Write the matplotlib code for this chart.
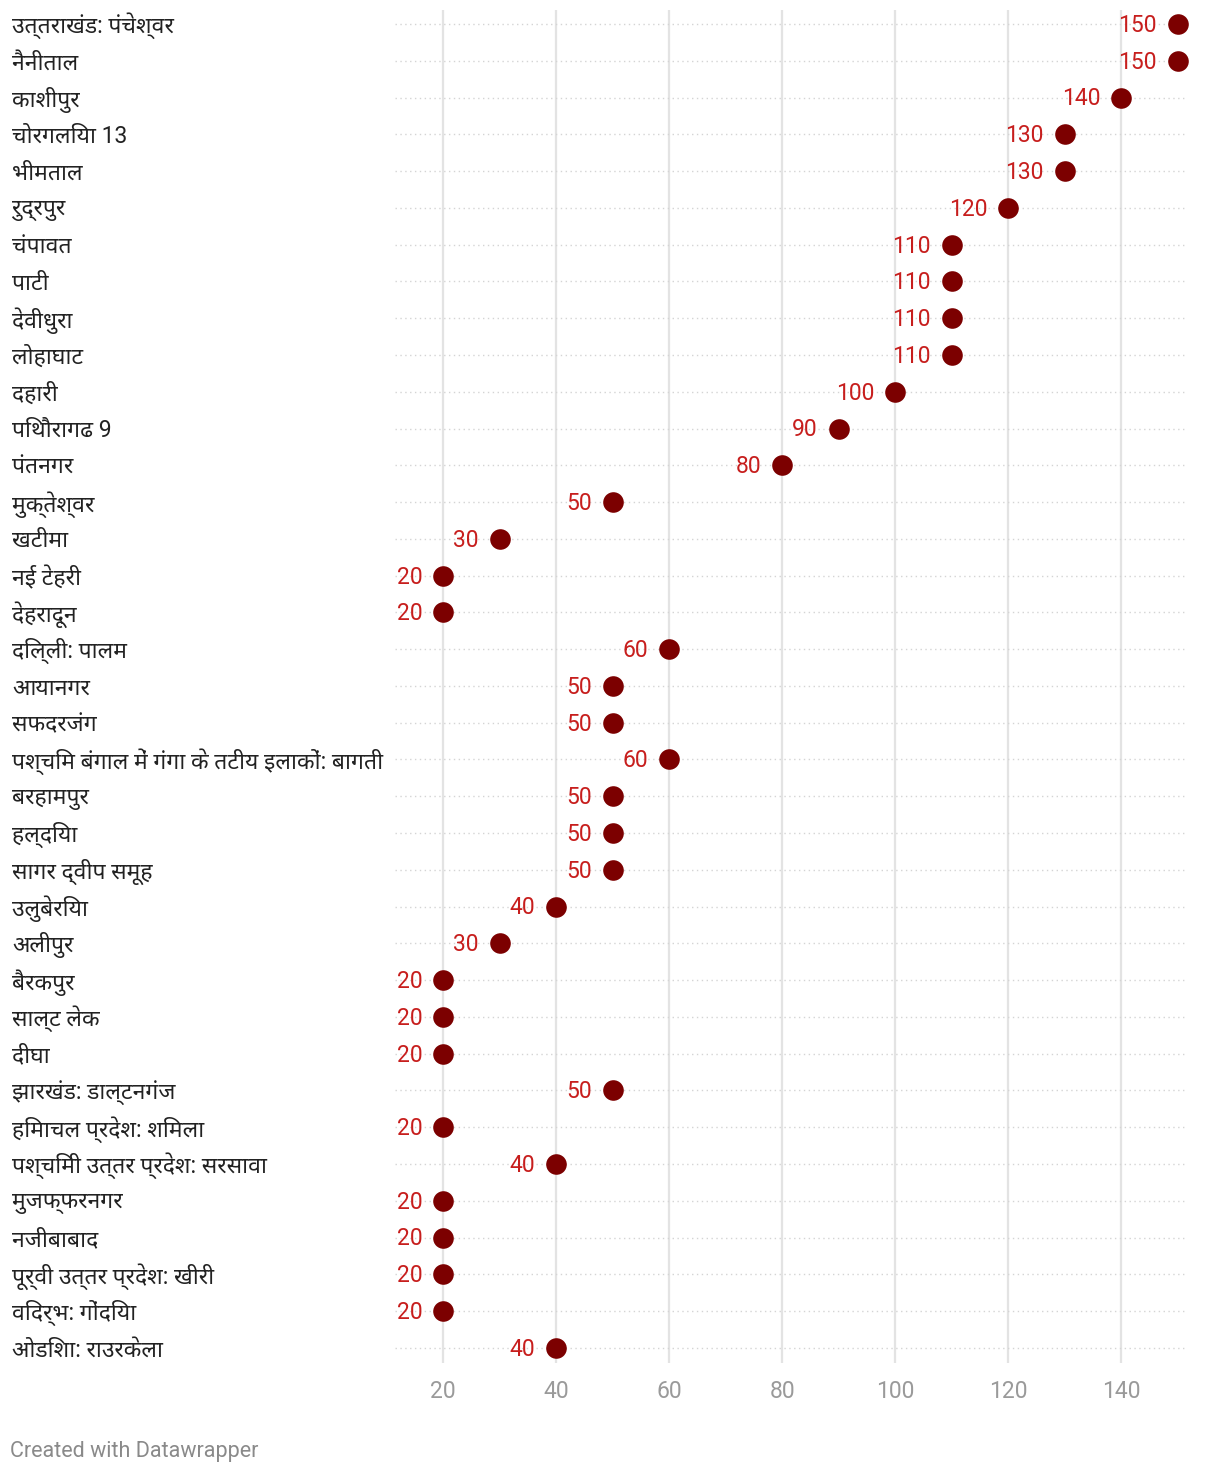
import matplotlib
matplotlib.use("Agg")
import matplotlib.pyplot as plt
import matplotlib.transforms as mtransforms

# station names (top to bottom) and values
stations = [
    "उत्तराखंड: पंचेश्वर", "नैनीताल", "काशीपुर", "चोरगलिया 13", "भीमताल",
    "रुद्रपुर", "चंपावत", "पाटी", "देवीधुरा", "लोहाघाट", "दहारी",
    "पिथौरागढ 9", "पंतनगर", "मुक्तेश्वर", "खटीमा", "नई टेहरी", "देहरादून",
    "दिल्ली: पालम", "आयानगर", "सफदरजंग",
    "पश्चिम बंगाल में गंगा के तटीय इलाकों: बागती", "बरहामपुर", "हल्दिया",
    "सागर द्वीप समूह", "उलुबेरिया", "अलीपुर", "बैरकपुर", "साल्ट लेक", "दीघा",
    "झारखंड: डाल्टनगंज", "हिमाचल प्रदेश: शिमला",
    "पश्चिमी उत्तर प्रदेश: सरसावा", "मुजफ्फरनगर", "नजीबाबाद",
    "पूर्वी उत्तर प्रदेश: खीरी", "विदर्भ: गोंदिया", "ओडिशा: राउरकेला",
]
values = [150, 150, 140, 130, 130, 120, 110, 110, 110, 110, 100,
          90, 80, 50, 30, 20, 20, 60, 50, 50, 60, 50, 50, 50, 40,
          30, 20, 20, 20, 50, 20, 40, 20, 20, 20, 20, 40]
xticks = [20, 40, 60, 80, 100, 120, 140]

FAM = ["Roboto", "Noto Sans", "DejaVu Sans"]
plt.rcParams["font.family"] = FAM

fig = plt.figure(figsize=(12.2, 14.76), dpi=100)
fig.patch.set_facecolor("white")
ax = fig.add_axes([0.3238, 0.0766, 0.6475, 0.9166])

n = len(stations)
ys = list(range(n))

for y in ys:
    ax.axhline(y, color="#d4d4d4", linestyle=(0, (1, 2.5)), linewidth=1.0, zorder=1)
for t in xticks:
    ax.axvline(t, color="#e3e3e3", linewidth=1.6, zorder=0)

ax.scatter(values, ys, s=220, color="#7c0000", zorder=3, linewidths=0, clip_on=False)

for v, y in zip(values, ys):
    ax.annotate(str(v), (v, y), xytext=(-15, -1), textcoords="offset points",
                ha="right", va="center", fontsize=16.5, color="#c71e1d", zorder=4)

lab_tr = mtransforms.blended_transform_factory(fig.transFigure, ax.transData)
lab_tr = lab_tr + mtransforms.ScaledTranslation(0, -1.5 / 72, fig.dpi_scale_trans)
for name, y in zip(stations, ys):
    ax.text(12 / 1220, y, name, transform=lab_tr, ha="left", va="center",
            fontsize=16.5, color="#222222")

ax.set_xlim(11.5, 151.3)
ax.set_ylim(n - 1 + 0.41, -0.38)
ax.set_xticks(xticks)
ax.set_yticks([])
ax.tick_params(axis="x", length=0, pad=12, labelsize=16.5, labelcolor="#9a9a9a")
for s in ax.spines.values():
    s.set_visible(False)

fig.text(10 / 1220, 1 - 1452 / 1476, "Created with Datawrapper", ha="left",
         va="center", fontsize=15.5, color="#8a8a8a")

fig.savefig("out.png", dpi=100, facecolor="white")
